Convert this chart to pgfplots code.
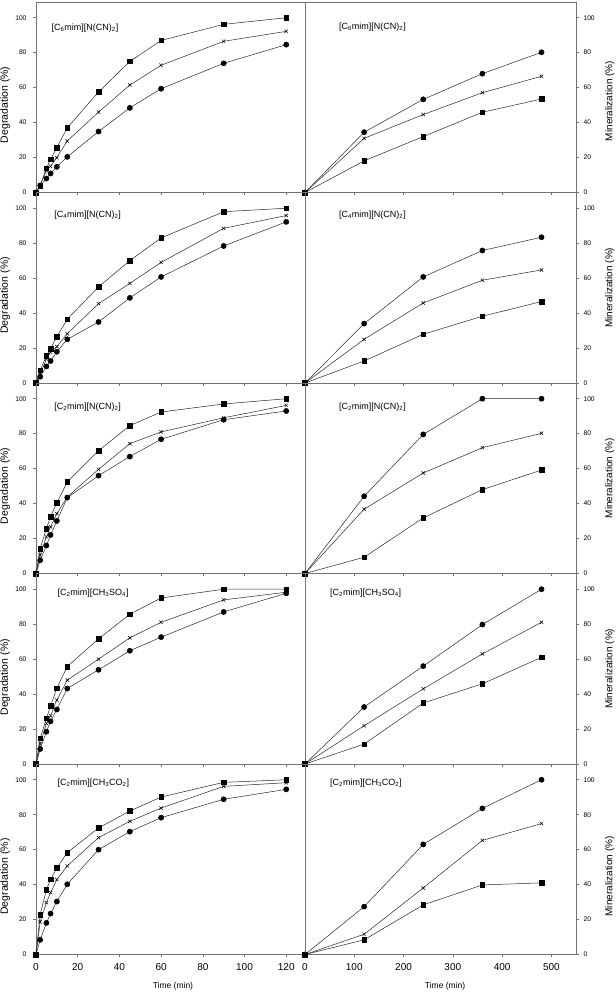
\documentclass[border=0pt]{standalone}
\usepackage{fontspec}
\setmainfont{Liberation Sans}
\usepackage{pgfplots}
\usepackage{pgfplotstable}
\pgfplotsset{compat=1.18}

% columns: time, square, cross, circle
\pgfplotstableread{
t sq cr ci
0 0 0 0
2 4 4.4 4
5 13.9 12.5 8
7 19 15 10.9
10 25.7 20 14.7
15 37 29.5 20.4
30 57.5 46 34.9
45 75 61.5 48.4
60 87 72.8 59.4
90 96.2 86.5 73.9
120 100 92.2 84.6
}\degA
\pgfplotstableread{
t sq cr ci
0 0 0 0
120 18.1 31 34.5
240 32 44.6 53.3
360 45.9 57.1 68
480 53.5 66.5 80.2
}\minA
\pgfplotstableread{
t sq cr ci
0 0 0 0
2 7.4 5 3.6
5 15.5 13.7 9.5
7 19.7 17.6 12.6
10 26.5 20.8 17.9
15 36.5 28.2 25
30 55 45.4 34.9
45 70 57 48.7
60 83 69 60.7
90 98 88.5 78.4
120 100 95.8 92.2
}\degB
\pgfplotstableread{
t sq cr ci
0 0 0 0
120 12.6 25 34
240 27.9 45.8 60.7
360 38.2 58.8 75.8
480 46.6 64.7 83.4
}\minB
\pgfplotstableread{
t sq cr ci
0 0 0 0
2 14.3 10.5 7.6
5 25.7 21 16
7 32.6 26.7 22.1
10 40.4 34.3 30.1
15 52.4 43.8 43.4
30 70.3 59.6 56
45 84.6 74.3 66.9
60 92.4 81 76.8
90 97 89.1 88
120 100 96.2 93
}\degC
\pgfplotstableread{
t sq cr ci
0 0 0 0
120 9.3 36.8 44.2
240 31.8 57.5 79.6
360 48 72 100
480 59.2 80.2 100
}\minC
\pgfplotstableread{
t sq cr ci
0 0 0 0
2 14.7 11.4 8.6
5 26.1 23.2 18.5
7 33.3 27.6 24.4
10 43.4 36.6 31.2
15 55.8 48 43.2
30 71.6 60 53.9
45 85.7 72.2 64.8
60 95 81.1 72.6
90 100 93.9 87
120 100 98.3 97.7
}\degD
\pgfplotstableread{
t sq cr ci
0 0 0 0
120 11.4 21.9 32.6
240 34.9 43 56
360 45.9 63 79.8
480 61 81.1 100
}\minD
\pgfplotstableread{
t sq cr ci
0 0 0 0
2 22.9 18.7 8.4
5 37.1 29.7 18.1
7 43 35.4 23.4
10 49.5 42.9 30.3
15 58.3 50.7 40.2
30 72.4 66.9 60
45 82.1 76.2 70.3
60 90.1 83.8 78.3
90 98.5 96.2 88.8
120 100 98.3 94.5
}\degE
\pgfplotstableread{
t sq cr ci
0 0 0 0
120 8.4 11.6 27.4
240 28.4 38.1 63
360 39.8 65.3 83.6
480 41 74.9 100
}\minE

\pgfplotsset{
  panel/.style={
    scale only axis, height=190.5pt, ymin=0, ymax=109, ytick={0,20,...,100},
    axis line style={black!55, line width=0.6pt},
    tick style={black!55, line width=0.5pt},
    tick align=outside, major tick length=2.5pt, xtick pos=left,
    /pgf/number format/assume math mode=true,
    xticklabel style={font=\fontsize{10}{12}\selectfont, yshift=-3pt},
  },
  degr/.style={panel, width=269pt, xmin=0, xmax=129, xtick={0,20,...,120},
    ytick pos=left,
    yticklabel style={font=\fontsize{6.7}{7}\selectfont, xshift=-3.5pt},
    ylabel={Degradation (\%)},
    ylabel style={font=\fontsize{10.5}{12}\selectfont, anchor=center}},
  mine/.style={panel, width=271pt, xmin=0, xmax=550, xtick={0,100,...,500},
    ytick pos=right, yticklabel pos=right,
    yticklabel style={font=\fontsize{6.7}{7}\selectfont, xshift=1.5pt},
    ylabel={Mineralization (\%)},
    ylabel style={font=\fontsize{10}{12}\selectfont, anchor=center}},
  ser/.style={black!85, line width=0.5pt},
  ci/.style={ser, mark=*, mark size=2.6pt, mark options={fill=black, draw=black}},
  cr/.style={ser, mark=x, mark size=2.4pt, mark options={draw=black}},
  sq/.style={ser, mark=square*, mark size=2.3pt, mark options={fill=black, draw=black}},
}

% #1 top y, #2 table, #3 label position, #4 label, #5 ylabel y, #6 extra options
\newcommand{\degpanel}[6]{%
  \begin{axis}[degr, at={(0pt,#1pt)}, anchor=north west,
      ylabel style={at={(axis description cs:-0.115,#5)}}, #6]
    \addplot[ci] table[x=t, y=ci]{#2};
    \addplot[cr] table[x=t, y=cr]{#2};
    \addplot[sq] table[x=t, y=sq]{#2};
    \node[anchor=west, font=\fontsize{9}{10}\selectfont] at (rel axis cs:#3) {#4};
  \end{axis}}
\newcommand{\minpanel}[6]{%
  \begin{axis}[mine, at={(269pt,#1pt)}, anchor=north west,
      ylabel style={at={(axis description cs:1.125,#5)}}, #6]
    \addplot[ci] table[x=t, y=ci]{#2};
    \addplot[cr] table[x=t, y=cr]{#2};
    \addplot[sq] table[x=t, y=sq]{#2};
    \node[anchor=west, font=\fontsize{9}{10}\selectfont] at (rel axis cs:#3) {#4};
  \end{axis}}

\begin{document}
\begin{tikzpicture}
  \useasboundingbox (-36pt,2pt) rectangle (579pt,-990pt);

  \degpanel{0}{\degA}{0.045,0.863}{[C\textsubscript{6}mim][N(CN)\textsubscript{2}]}{0.46}{xticklabels={}}
  \minpanel{0}{\minA}{0.113,0.866}{[C\textsubscript{6}mim][N(CN)\textsubscript{2}]}{0.48}{xticklabels={}}

  \degpanel{-190.5}{\degB}{0.055,0.883}{[C\textsubscript{4}mim][N(CN)\textsubscript{2}]}{0.46}{xticklabels={}}
  \minpanel{-190.5}{\minB}{0.113,0.883}{[C\textsubscript{4}mim][N(CN)\textsubscript{2}]}{0.5}{xticklabels={}}

  \degpanel{-381}{\degC}{0.055,0.874}{[C\textsubscript{2}mim][N(CN)\textsubscript{2}]}{0.46}{xticklabels={}}
  \minpanel{-381}{\minC}{0.113,0.873}{[C\textsubscript{2}mim][N(CN)\textsubscript{2}]}{0.5}{xticklabels={}}

  \degpanel{-571.5}{\degD}{0.067,0.898}{[C\textsubscript{2}mim][CH\textsubscript{3}SO\textsubscript{4}]}{0.455}{xticklabels={}}
  \minpanel{-571.5}{\minD}{0.08,0.897}{[C\textsubscript{2}mim][CH\textsubscript{3}SO\textsubscript{4}]}{0.5}{xticklabels={}}

  \degpanel{-762}{\degE}{0.067,0.9}{[C\textsubscript{2}mim][CH\textsubscript{3}CO\textsubscript{2}]}{0.41}{xlabel={Time (min)},
      xlabel style={at={(axis description cs:0.509,-0.166)}, anchor=center, font=\fontsize{8.5}{10}\selectfont}}
  \minpanel{-762}{\minE}{0.08,0.9}{[C\textsubscript{2}mim][CH\textsubscript{3}CO\textsubscript{2}]}{0.41}{xlabel={Time (min)},
      xlabel style={at={(axis description cs:0.517,-0.166)}, anchor=center, font=\fontsize{8.5}{10}\selectfont}}
\end{tikzpicture}
\end{document}
